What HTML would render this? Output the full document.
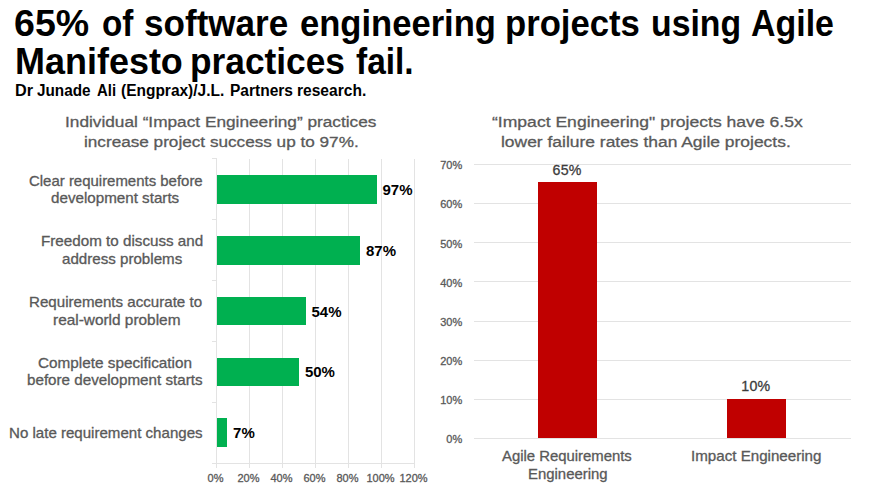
<!DOCTYPE html>
<html><head><meta charset="utf-8">
<style>
*{margin:0;padding:0;box-sizing:border-box}
html,body{width:869px;height:489px;background:#fff;overflow:hidden}
body{position:relative;font-family:"Liberation Sans",sans-serif}
.a{position:absolute;white-space:nowrap}
.w{position:absolute;white-space:nowrap;transform-origin:0 0}
.g{-webkit-text-stroke:0.3px #595959}
.gv{position:absolute;width:1px;background:#e3e3e3}
.gh{position:absolute;height:1px;background:#e3e3e3}
.bar{position:absolute;background:#00b050}
.rbar{position:absolute;background:#c00000}
.dl{font-weight:bold;font-size:15px;line-height:16px;color:#000}
.ax{font-size:11px;line-height:12px;color:#595959;-webkit-text-stroke:0.3px #595959}
.rdl{font-size:14.2px;line-height:16px;color:#3c3c3c;text-align:center;letter-spacing:0.2px;-webkit-text-stroke:0.3px #3c3c3c}
</style></head><body>
<div class="w" style="left:14.19px;top:5.28px;font-weight:bold;font-size:37px;line-height:37px;color:#000;transform:scaleX(1.0145)">65%</div>
<div class="w" style="left:102.40px;top:5.28px;font-weight:bold;font-size:37px;line-height:37px;color:#000;transform:scaleX(0.8988)">of</div>
<div class="w" style="left:144.35px;top:5.28px;font-weight:bold;font-size:37px;line-height:37px;color:#000;transform:scaleX(0.9483)">software</div>
<div class="w" style="left:299.97px;top:5.28px;font-weight:bold;font-size:37px;line-height:37px;color:#000;transform:scaleX(0.9344)">engineering</div>
<div class="w" style="left:504.73px;top:5.28px;font-weight:bold;font-size:37px;line-height:37px;color:#000;transform:scaleX(0.9373)">projects</div>
<div class="w" style="left:650.77px;top:5.28px;font-weight:bold;font-size:37px;line-height:37px;color:#000;transform:scaleX(0.9131)">using</div>
<div class="w" style="left:751.10px;top:5.28px;font-weight:bold;font-size:37px;line-height:37px;color:#000;transform:scaleX(0.9168)">Agile</div>
<div class="w" style="left:14.56px;top:42.98px;font-weight:bold;font-size:37px;line-height:37px;color:#000;transform:scaleX(0.9719)">Manifesto</div>
<div class="w" style="left:190.49px;top:42.98px;font-weight:bold;font-size:37px;line-height:37px;color:#000;transform:scaleX(0.9537)">practices</div>
<div class="w" style="left:355.90px;top:42.98px;font-weight:bold;font-size:37px;line-height:37px;color:#000;transform:scaleX(0.9030)">fail.</div>
<div class="w" style="left:14.69px;top:83.36px;font-weight:bold;font-size:16px;line-height:16px;color:#000;transform:scaleX(1.0148)">Dr</div>
<div class="w" style="left:37.20px;top:83.36px;font-weight:bold;font-size:16px;line-height:16px;color:#000;transform:scaleX(0.9551)">Junade</div>
<div class="w" style="left:96.50px;top:83.36px;font-weight:bold;font-size:16px;line-height:16px;color:#000;transform:scaleX(0.9300)">Ali</div>
<div class="w" style="left:121.20px;top:83.36px;font-weight:bold;font-size:16px;line-height:16px;color:#000;transform:scaleX(0.9677)">(Engprax)/J.L.</div>
<div class="w" style="left:229.73px;top:83.36px;font-weight:bold;font-size:16px;line-height:16px;color:#000;transform:scaleX(0.9700)">Partners</div>
<div class="w" style="left:297.33px;top:83.36px;font-weight:bold;font-size:16px;line-height:16px;color:#000;transform:scaleX(0.9725)">research.</div>
<div class="w g" style="left:65.19px;top:112.04px;font-weight:normal;font-size:15.5px;line-height:19.38px;color:#595959;transform:scaleX(1.1123)">Individual “Impact Engineering” practices</div>
<div class="w g" style="left:83.89px;top:132.04px;font-weight:normal;font-size:15.5px;line-height:19.38px;color:#595959;transform:scaleX(1.1069)">increase project success up to 97%.</div>
<div class="w g" style="left:492.00px;top:112.34px;font-weight:normal;font-size:15.5px;line-height:19.38px;color:#595959;transform:scaleX(1.1327)">“Impact Engineering" projects have 6.5x</div>
<div class="w g" style="left:501.18px;top:132.44px;font-weight:normal;font-size:15.5px;line-height:19.38px;color:#595959;transform:scaleX(1.1247)">lower failure rates than Agile projects.</div>
<div class="w g" style="left:28.50px;top:172.60px;font-weight:normal;font-size:14.2px;line-height:17.75px;color:#595959;transform:scaleX(1.0538)">Clear requirements before</div>
<div class="w g" style="left:51.20px;top:190.30px;font-weight:normal;font-size:14.2px;line-height:17.75px;color:#595959;transform:scaleX(1.0695)">development starts</div>
<div class="w g" style="left:40.53px;top:233.40px;font-weight:normal;font-size:14.2px;line-height:17.75px;color:#595959;transform:scaleX(1.0715)">Freedom to discuss and</div>
<div class="w g" style="left:61.60px;top:251.10px;font-weight:normal;font-size:14.2px;line-height:17.75px;color:#595959;transform:scaleX(1.0659)">address problems</div>
<div class="w g" style="left:28.63px;top:294.00px;font-weight:normal;font-size:14.2px;line-height:17.75px;color:#595959;transform:scaleX(1.0652)">Requirements accurate to</div>
<div class="w g" style="left:52.70px;top:311.70px;font-weight:normal;font-size:14.2px;line-height:17.75px;color:#595959;transform:scaleX(1.0852)">real-world problem</div>
<div class="w g" style="left:37.90px;top:354.70px;font-weight:normal;font-size:14.2px;line-height:17.75px;color:#595959;transform:scaleX(1.0787)">Complete specification</div>
<div class="w g" style="left:27.10px;top:372.30px;font-weight:normal;font-size:14.2px;line-height:17.75px;color:#595959;transform:scaleX(1.0699)">before development starts</div>
<div class="w g" style="left:9.04px;top:424.50px;font-weight:normal;font-size:14.2px;line-height:17.75px;color:#595959;transform:scaleX(1.0625)">No late requirement changes</div>
<div class="w g" style="left:502.40px;top:448.40px;font-weight:normal;font-size:14.2px;line-height:17.75px;color:#595959;transform:scaleX(1.0484)">Agile Requirements</div>
<div class="w g" style="left:527.65px;top:466.10px;font-weight:normal;font-size:14.2px;line-height:17.75px;color:#595959;transform:scaleX(1.0510)">Engineering</div>
<div class="w g" style="left:691.23px;top:448.40px;font-weight:normal;font-size:14.2px;line-height:17.75px;color:#595959;transform:scaleX(1.0669)">Impact Engineering</div>
<div class="gv" style="left:216px;top:159px;height:308.5px"></div>
<div class="gv" style="left:249px;top:159px;height:308.5px"></div>
<div class="gv" style="left:282px;top:159px;height:308.5px"></div>
<div class="gv" style="left:315px;top:159px;height:308.5px"></div>
<div class="gv" style="left:348px;top:159px;height:308.5px"></div>
<div class="gv" style="left:381px;top:159px;height:308.5px"></div>
<div class="gv" style="left:414px;top:159px;height:308.5px"></div>
<div class="gh" style="left:212px;top:463px;width:203px"></div>
<div class="gh" style="left:212px;top:158.2px;width:5px"></div>
<div class="gh" style="left:212px;top:219.1px;width:5px"></div>
<div class="gh" style="left:212px;top:280.0px;width:5px"></div>
<div class="gh" style="left:212px;top:340.9px;width:5px"></div>
<div class="gh" style="left:212px;top:401.8px;width:5px"></div>
<div class="bar" style="left:217px;top:175.1px;width:159.5px;height:28.8px"></div>
<div class="a dl" style="left:382.5px;top:182.0px">97%</div>
<div class="bar" style="left:217px;top:235.9px;width:143.0px;height:28.8px"></div>
<div class="a dl" style="left:366.0px;top:242.8px">87%</div>
<div class="bar" style="left:217px;top:296.7px;width:88.5px;height:28.8px"></div>
<div class="a dl" style="left:311.5px;top:303.6px">54%</div>
<div class="bar" style="left:217px;top:357.5px;width:81.9px;height:28.8px"></div>
<div class="a dl" style="left:304.9px;top:364.4px">50%</div>
<div class="bar" style="left:217px;top:418.3px;width:10.1px;height:28.8px"></div>
<div class="a dl" style="left:233.1px;top:425.2px">7%</div>
<div class="a ax" style="left:190.5px;width:50px;text-align:center;top:472.19px">0%</div>
<div class="a ax" style="left:223.5px;width:50px;text-align:center;top:472.19px">20%</div>
<div class="a ax" style="left:256.5px;width:50px;text-align:center;top:472.19px">40%</div>
<div class="a ax" style="left:289.5px;width:50px;text-align:center;top:472.19px">60%</div>
<div class="a ax" style="left:322.5px;width:50px;text-align:center;top:472.19px">80%</div>
<div class="a ax" style="left:355.5px;width:50px;text-align:center;top:472.19px">100%</div>
<div class="a ax" style="left:388.5px;width:50px;text-align:center;top:472.19px">120%</div>
<div class="gh" style="left:473.5px;top:437.9px;width:377px"></div>
<div class="a ax" style="left:402.2px;width:60px;text-align:right;top:433.29px">0%</div>
<div class="gh" style="left:473.5px;top:398.8px;width:377px"></div>
<div class="a ax" style="left:402.2px;width:60px;text-align:right;top:394.15px">10%</div>
<div class="gh" style="left:473.5px;top:359.6px;width:377px"></div>
<div class="a ax" style="left:402.2px;width:60px;text-align:right;top:355.01px">20%</div>
<div class="gh" style="left:473.5px;top:320.5px;width:377px"></div>
<div class="a ax" style="left:402.2px;width:60px;text-align:right;top:315.87px">30%</div>
<div class="gh" style="left:473.5px;top:281.3px;width:377px"></div>
<div class="a ax" style="left:402.2px;width:60px;text-align:right;top:276.73px">40%</div>
<div class="gh" style="left:473.5px;top:242.2px;width:377px"></div>
<div class="a ax" style="left:402.2px;width:60px;text-align:right;top:237.59px">50%</div>
<div class="gh" style="left:473.5px;top:203.1px;width:377px"></div>
<div class="a ax" style="left:402.2px;width:60px;text-align:right;top:198.45px">60%</div>
<div class="gh" style="left:473.5px;top:163.9px;width:377px"></div>
<div class="a ax" style="left:402.2px;width:60px;text-align:right;top:159.31px">70%</div>
<div class="rbar" style="left:538.2px;top:182.2px;width:58.8px;height:255.8px"></div>
<div class="rbar" style="left:726.6px;top:399px;width:59.1px;height:39px"></div>
<div class="a rdl" style="left:517.1px;width:100px;top:161.78px">65%</div>
<div class="a rdl" style="left:705.8px;width:100px;top:377.78px">10%</div>
</body></html>
